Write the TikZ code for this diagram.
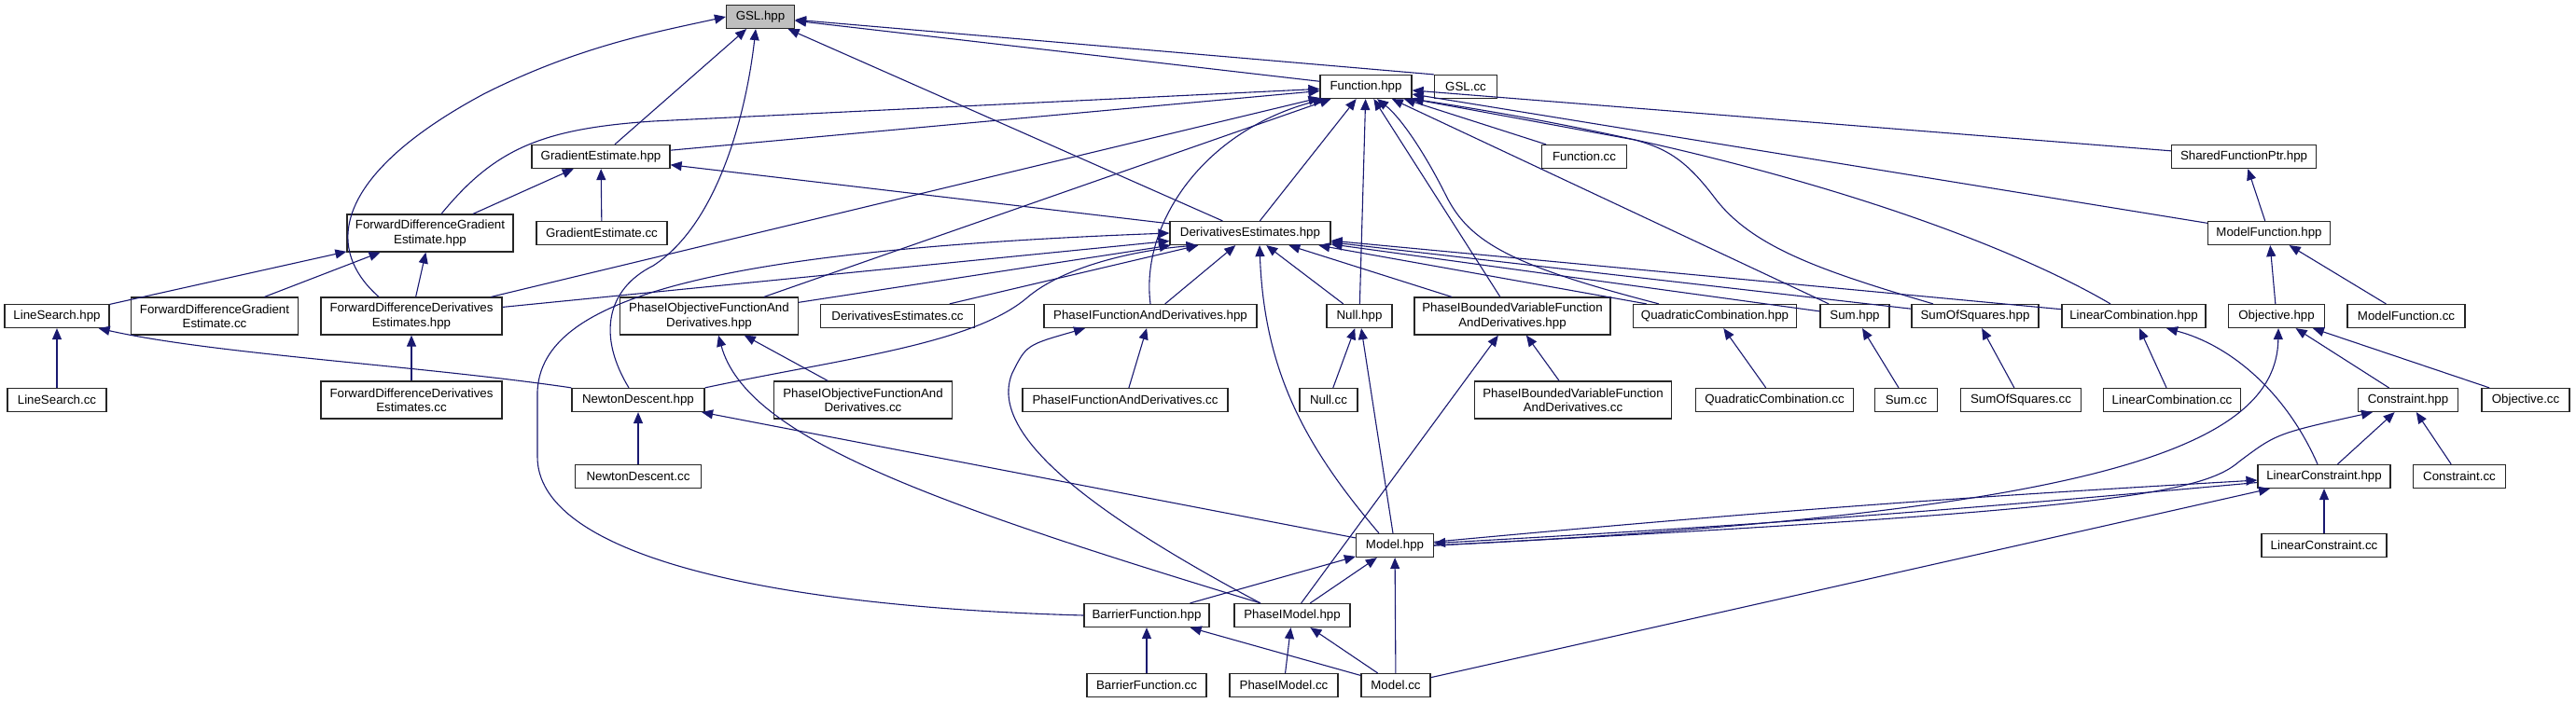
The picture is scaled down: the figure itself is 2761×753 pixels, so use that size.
\documentclass[tikz,border=0pt]{standalone}
\usepackage{fontspec}
\setmainfont{Liberation Sans}
\usetikzlibrary{arrows.meta}
\definecolor{edgeblue}{RGB}{25,25,112}
\definecolor{rootgray}{RGB}{191,191,191}

\begin{document}
\begin{tikzpicture}[x=1pt, y=-1pt,
  box/.style={draw=black!85, line width=1.2pt, fill=white, inner sep=0pt, minimum height=25pt, align=center, font=\fontsize{13.3}{15.5}\selectfont},
  tall/.style={minimum height=40pt},
  wd/.style={minimum width=#1pt},
  dep/.style={edgeblue, line width=1.1pt, -{Triangle[length=12pt,width=10pt]}}]
\useasboundingbox (0,0) rectangle (2761,753);
% files
\node[box, fill=rootgray, wd=73] (gsl) at (815,18) {GSL.hpp};
\node[box, wd=98] (func) at (1464,93) {Function.hpp};
\node[box, wd=67] (gslcc) at (1571,93) {GSL.cc};
\node[box, wd=148] (ge) at (644,168) {GradientEstimate.hpp};
\node[box, wd=91] (funccc) at (1698,168) {Function.cc};
\node[box, wd=155] (sfp) at (2405,168) {SharedFunctionPtr.hpp};
\node[box, tall, wd=178] (fdge) at (461,250) {ForwardDifferenceGradient\\Estimate.hpp};
\node[box, wd=140] (gecc) at (645,250) {GradientEstimate.cc};
\node[box, wd=172] (de) at (1340,250) {DerivativesEstimates.hpp};
\node[box, wd=131] (mf) at (2432,250) {ModelFunction.hpp};
\node[box, wd=112] (ls) at (61,339) {LineSearch.hpp};
\node[box, tall, wd=179] (fdgecc) at (230,339) {ForwardDifferenceGradient\\Estimate.cc};
\node[box, tall, wd=194] (fdde) at (441,339) {ForwardDifferenceDerivatives\\Estimates.hpp};
\node[box, tall, wd=191] (poh) at (760,339) {PhaseIObjectiveFunctionAnd\\Derivatives.hpp};
\node[box, wd=165] (decc) at (962,339) {DerivativesEstimates.cc};
\node[box, wd=228] (pfh) at (1233,339) {PhaseIFunctionAndDerivatives.hpp};
\node[box, wd=70] (nullh) at (1457,339) {Null.hpp};
\node[box, tall, wd=210] (pbh) at (1621,339) {PhaseIBoundedVariableFunction\\AndDerivatives.hpp};
\node[box, wd=175] (qch) at (1838,339) {QuadraticCombination.hpp};
\node[box, wd=74] (sumh) at (1988,339) {Sum.hpp};
\node[box, wd=136] (sosh) at (2117,339) {SumOfSquares.hpp};
\node[box, wd=154] (lch) at (2287,339) {LinearCombination.hpp};
\node[box, wd=103] (objh) at (2440,339) {Objective.hpp};
\node[box, wd=126] (mfcc) at (2579,339) {ModelFunction.cc};
\node[box, wd=106] (lscc) at (61,429) {LineSearch.cc};
\node[box, tall, wd=194] (fddecc) at (441,429) {ForwardDifferenceDerivatives\\Estimates.cc};
\node[box, wd=142] (ndh) at (684,429) {NewtonDescent.hpp};
\node[box, tall, wd=191] (pocc) at (925,429) {PhaseIObjectiveFunctionAnd\\Derivatives.cc};
\node[box, wd=220] (pfcc) at (1206,429) {PhaseIFunctionAndDerivatives.cc};
\node[box, wd=62] (nullcc) at (1424,429) {Null.cc};
\node[box, tall, wd=211] (pbcc) at (1686,429) {PhaseIBoundedVariableFunction\\AndDerivatives.cc};
\node[box, wd=169] (qccc) at (1902,429) {QuadraticCombination.cc};
\node[box, wd=67] (sumcc) at (2043,429) {Sum.cc};
\node[box, wd=129] (soscc) at (2166,429) {SumOfSquares.cc};
\node[box, wd=147] (lccc) at (2328,429) {LinearCombination.cc};
\node[box, wd=107] (conh) at (2581,429) {Constraint.hpp};
\node[box, wd=94] (objcc) at (2707,429) {Objective.cc};
\node[box, wd=135] (ndcc) at (684,511) {NewtonDescent.cc};
\node[box, wd=142] (lconh) at (2491,511) {LinearConstraint.hpp};
\node[box, wd=99] (concc) at (2636,511) {Constraint.cc};
\node[box, wd=83] (modelh) at (1495,585) {Model.hpp};
\node[box, wd=134] (lconcc) at (2491,585) {LinearConstraint.cc};
\node[box, wd=134] (bfh) at (1229,660) {BarrierFunction.hpp};
\node[box, wd=124] (pmh) at (1385,660) {PhaseIModel.hpp};
\node[box, wd=128] (bfcc) at (1229,735) {BarrierFunction.cc};
\node[box, wd=116] (pmcc) at (1376,735) {PhaseIModel.cc};
\node[box, wd=74] (modelcc) at (1496,735) {Model.cc};
% GSL.hpp
\draw[dep] (func) -- (gsl);
\draw[dep] (gslcc.north west) -- (gsl);
\draw[dep] (ge) -- (gsl);
\draw[dep] (de) -- (gsl);
\draw[dep] ([xshift=-10]ndh.north) .. controls (640,360) and (650,310) .. (700,285) .. controls (770,240) and (800,120) .. ([xshift=-5]gsl.south);
\draw[dep] ([xshift=-35]fdde.north) .. controls (340,260) and (370,180) .. (520,100) .. controls (620,50) and (700,35) .. (gsl.west);
% Function.hpp
\draw[dep] (ge) -- (func);
\draw[dep] ([xshift=12]fdge.north) .. controls (530,160) and (580,138) .. (700,130) -- (func);
\draw[dep] (fdde) -- (func);
\draw[dep] (poh) -- (func);
\draw[dep] (pfh.north) .. controls (1222,240) and (1290,140) .. ([xshift=5]func.south west);
\draw[dep] (de) -- (func);
\draw[dep] (nullh) -- (func);
\draw[dep] (pbh) -- (func);
\draw[dep] ([xshift=-60]qch.north) .. controls (1620,285) and (1575,260) .. (1550,210) .. controls (1525,160) and (1500,125) .. ([xshift=12]func.south);
\draw[dep] (sumh) -- (func);
\draw[dep] (funccc) -- (func);
\draw[dep] ([xshift=-45]sosh.north) .. controls (1950,290) and (1880,265) .. (1840,215) .. controls (1810,175) and (1790,160) .. (1752,150) -- (func.south east);
\draw[dep] ([xshift=-25]lch.north) .. controls (2150,260) and (1900,165) .. (func.south east);
\draw[dep] (mf) -- (func);
\draw[dep] (sfp) -- (func);
% DerivativesEstimates.hpp
\draw[dep] (fdde) -- (de);
\draw[dep] (poh) -- (de);
\draw[dep] (decc) -- (de);
\draw[dep] (ndh.north east) .. controls (900,385) and (1040,370) .. (1100,320) .. controls (1140,285) and (1220,268) .. ([xshift=30]de.south west);
\draw[dep] (bfh.west) .. controls (800,650) and (576,590) .. (576,490) -- (576,420) .. controls (580,330) and (720,270) .. (de.west);
\draw[dep] (pfh) -- (de);
\draw[dep] ([xshift=-17]modelh.north) .. controls (1400,480) and (1355,400) .. ([xshift=10]de.south);
\draw[dep] (nullh) -- (de);
\draw[dep] (pbh) -- (de);
\draw[dep] (qch) -- (de);
\draw[dep] (sumh) -- (de);
\draw[dep] (sosh) -- (de);
\draw[dep] (lch) -- (de);
\draw[dep] (de) -- (ge);
% gradient estimates, line search, newton
\draw[dep] (fdge) -- (ge);
\draw[dep] (gecc) -- (ge);
\draw[dep] (ls) -- (fdge);
\draw[dep] (fdgecc) -- (fdge);
\draw[dep] (fdde) -- (fdge);
\draw[dep] (fddecc) -- (fdde);
\draw[dep] (lscc) -- (ls);
\draw[dep] (ndh.north west) .. controls (450,392) and (230,380) .. ([xshift=-12]ls.south east);
\draw[dep] (ndcc) -- (ndh);
\draw[dep] (modelh) -- (ndh);
% phase I
\draw[dep] (pocc) -- (poh);
\draw[dep] ([xshift=-34]pmh.north) .. controls (1000,540) and (800,470) .. ([xshift=10]poh.south);
\draw[dep] (pfcc) -- (pfh);
\draw[dep] ([xshift=-34]pmh.north) .. controls (1150,540) and (1060,460) .. (1085,400) .. controls (1100,370) .. ([xshift=-70]pfh.south);
\draw[dep] (pbcc) -- (pbh);
\draw[dep] (pmh) -- (pbh);
\draw[dep] (pmcc) -- (pmh);
\draw[dep] (modelcc) -- (pmh);
% null, sums, combinations
\draw[dep] (nullcc) -- (nullh);
\draw[dep] (modelh) -- (nullh);
\draw[dep] (qccc) -- (qch);
\draw[dep] (sumcc) -- (sumh);
\draw[dep] (soscc) -- (sosh);
\draw[dep] (lccc) -- (lch);
\draw[dep] ([xshift=-7]lconh.north) .. controls (2450,420) and (2390,370) .. ([xshift=35]lch.south);
% model function, objective, constraints
\draw[dep] (mf) -- (sfp);
\draw[dep] (objh) -- (mf);
\draw[dep] (mfcc) -- (mf);
\draw[dep] (conh) -- (objh);
\draw[dep] (objcc) -- (objh);
\draw[dep] (lconh) -- (conh);
\draw[dep] (concc) -- (conh);
\draw[dep] (lconcc) -- (lconh);
% Model.hpp and Model.cc
\draw[dep] (modelh.east) .. controls (2250,550) and (2440,480) .. ([xshift=2]objh.south);
\draw[dep] (modelh.east) .. controls (2250,548) and (2360,530) .. (2400,495) .. controls (2440,465) .. ([xshift=-38]conh.south);
\draw[dep] (modelh) to[bend left=1] (lconh);
\draw[dep] (lconh) to[bend left=1] (modelh);
\draw[dep] (modelcc) -- (lconh);
\draw[dep] (modelcc) -- (modelh);
\draw[dep] (bfh) -- (modelh);
\draw[dep] (pmh) -- (modelh);
\draw[dep] (modelcc) -- (bfh);
\draw[dep] (bfcc) -- (bfh);
\end{tikzpicture}
\end{document}
